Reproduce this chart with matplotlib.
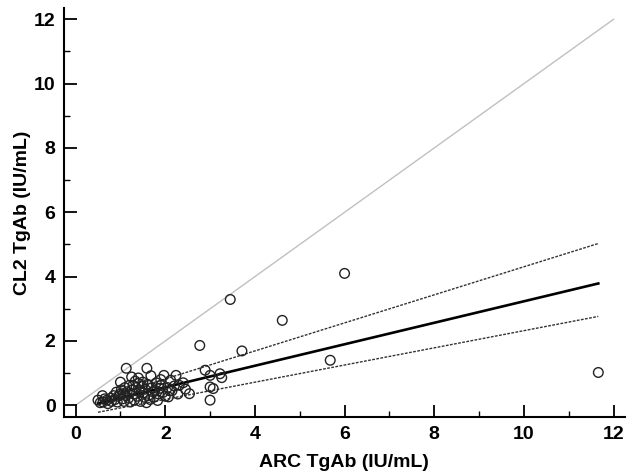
import numpy as np
import matplotlib
matplotlib.use("Agg")
import matplotlib.pyplot as plt
from matplotlib.ticker import MultipleLocator

plt.rcParams['font.family'] = ['Liberation Sans', 'DejaVu Sans']

# ARC TgAb vs CL2 TgAb (IU/mL)
arc = [0.50, 0.55, 0.61, 0.65, 0.70, 0.72, 0.78, 0.80, 0.85, 0.88, 0.91, 0.93,
       0.95, 1.00, 1.02, 1.05, 1.06, 1.08, 1.10, 1.12, 1.13, 1.15, 1.18, 1.20,
       1.22, 1.25, 1.26, 1.28, 1.30, 1.31, 1.33, 1.35, 1.38, 1.40, 1.42, 1.45,
       1.48, 1.50, 1.51, 1.53, 1.55, 1.58, 1.59, 1.60, 1.62, 1.63, 1.66, 1.70,
       1.72, 1.75, 1.77, 1.80, 1.83, 1.85, 1.88, 1.90, 1.95, 1.97, 2.00, 2.05,
       2.07, 2.12, 2.15, 2.20, 2.24, 2.28, 2.31, 2.40, 2.45, 2.54, 2.77, 2.89,
       3.00, 3.00, 3.07, 3.00, 3.22, 3.26, 3.45, 3.71, 4.61, 5.68, 6.00, 11.66,
       1.00, 1.40, 1.68, 0.60, 1.90, 2.10]
cl2 = [0.16, 0.08, 0.10, 0.20, 0.16, 0.05, 0.22, 0.12, 0.30, 0.18, 0.41, 0.10,
       0.28, 0.35, 0.48, 0.20, 0.36, 0.12, 0.55, 0.30, 1.15, 0.42, 0.22, 0.62,
       0.10, 0.88, 0.48, 0.62, 0.35, 0.16, 0.75, 0.55, 0.28, 0.68, 0.45, 0.12,
       0.60, 0.72, 0.38, 0.25, 0.50, 0.08, 1.15, 0.65, 0.30, 0.62, 0.18, 0.55,
       0.42, 0.25, 0.47, 0.70, 0.15, 0.35, 0.53, 0.62, 0.40, 0.93, 0.28, 0.55,
       0.26, 0.78, 0.45, 0.60, 0.93, 0.35, 0.62, 0.70, 0.50, 0.36, 1.86, 1.09,
       0.93, 0.57, 0.52, 0.16, 0.98, 0.86, 3.29, 1.69, 2.64, 1.40, 4.10, 1.02,
       0.72, 0.85, 0.92, 0.30, 0.80, 0.45]

# regression line and confidence band (intercept, slope)
fit = (-0.107, 0.334)
upper = (-0.054, 0.436)
lower = (-0.350, 0.267)
fit_range = [0.50, 11.66]
identity = [0, 12]

fig = plt.figure(figsize=(6.33, 4.73), dpi=100)
ax = fig.add_axes([0.101, 0.118, 0.886, 0.865])

ax.plot(identity, identity, color='#c0c0c0', lw=1.0, zorder=1)
xr = np.array(fit_range)
ax.plot(xr, fit[0] + fit[1] * xr, color='black', lw=1.9, zorder=3)
for b in (upper, lower):
    ax.plot(xr, b[0] + b[1] * xr, color='#333333', lw=1.0, ls=(0, (2.0, 1.0)), zorder=3)

ax.scatter(arc, cl2, s=48, facecolors='none', edgecolors='#222222', linewidths=1.0, zorder=4)

ax.set_xlim(-0.26, 12.25)
ax.set_ylim(-0.37, 12.35)
ax.xaxis.set_major_locator(MultipleLocator(2))
ax.xaxis.set_minor_locator(MultipleLocator(1))
ax.yaxis.set_major_locator(MultipleLocator(2))
ax.yaxis.set_minor_locator(MultipleLocator(1))
ax.tick_params(which='major', direction='in', length=9, width=1.3, labelsize=14, pad=6)
ax.tick_params(which='minor', direction='in', length=4.5, width=1.0)
for lab in ax.get_xticklabels() + ax.get_yticklabels():
    lab.set_fontweight('bold')

for s in ('top', 'right'):
    ax.spines[s].set_visible(False)
for s in ('left', 'bottom'):
    ax.spines[s].set_linewidth(1.5)

ax.set_xlabel('ARC TgAb (IU/mL)', fontsize=14, fontweight='bold', labelpad=8)
ax.set_ylabel('CL2 TgAb (IU/mL)', fontsize=14, fontweight='bold', labelpad=2)

fig.savefig('out.png', dpi=100)
